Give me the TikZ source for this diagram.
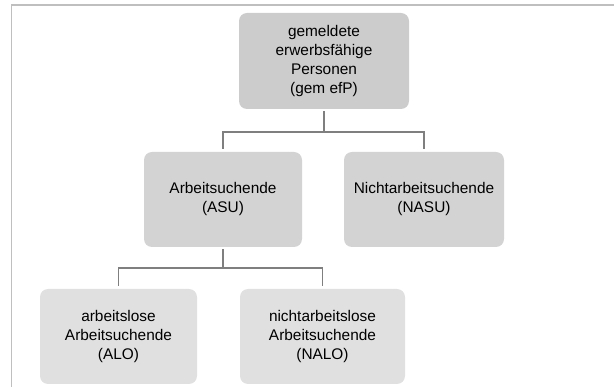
\documentclass[tikz,border=0pt]{standalone}
\usepackage{fontspec}
\setmainfont{Liberation Sans}
\definecolor{boxa}{HTML}{CCCCCC}
\definecolor{boxb}{HTML}{D3D3D3}
\definecolor{boxc}{HTML}{E0E0E0}
\definecolor{linec}{HTML}{7F7F7F}
\definecolor{framec}{HTML}{BFBFBF}
\begin{document}
\begin{tikzpicture}[x=1pt,y=-1pt,
  boxstyle/.style={rounded corners=8pt, inner sep=0pt, align=center,
    font=\fontsize{15.4}{19}\selectfont, text=black},
  conn/.style={draw=linec, line width=1.5pt, shorten <=2pt, shorten >=3pt}]
\useasboundingbox (0,0) rectangle (614,387);
\draw[framec, line width=1.6pt] (11.5,387) -- (11.5,5) -- (614,5);
\node[boxstyle, fill=boxa, minimum width=170pt, minimum height=96pt] (top) at (324,61)
  {gemeldete\\erwerbsfähige\\Personen\\(gem efP)};
\node[boxstyle, fill=boxb, minimum width=158pt, minimum height=95pt] (asu) at (223,199.5)
  {Arbeitsuchende\\(ASU)};
\node[boxstyle, fill=boxb, minimum width=160pt, minimum height=95pt] (nasu) at (424,199.5)
  {Nichtarbeitsuchende\\(NASU)};
\node[boxstyle, fill=boxc, minimum width=157pt, minimum height=95pt] (alo) at (118.5,336.5)
  {arbeitslose\\Arbeitsuchende\\(ALO)};
\node[boxstyle, fill=boxc, minimum width=165pt, minimum height=95pt] (nalo) at (322.5,336.5)
  {nichtarbeitslose\\Arbeitsuchende\\(NALO)};
\draw[conn] (top.south) -- ++(0,23) -| (asu.north);
\draw[conn] (top.south) -- ++(0,23) -| (nasu.north);
\draw[conn] (asu.south) -- ++(0,21) -| (alo.north);
\draw[conn] (asu.south) -- ++(0,21) -| (nalo.north);
\end{tikzpicture}
\end{document}
